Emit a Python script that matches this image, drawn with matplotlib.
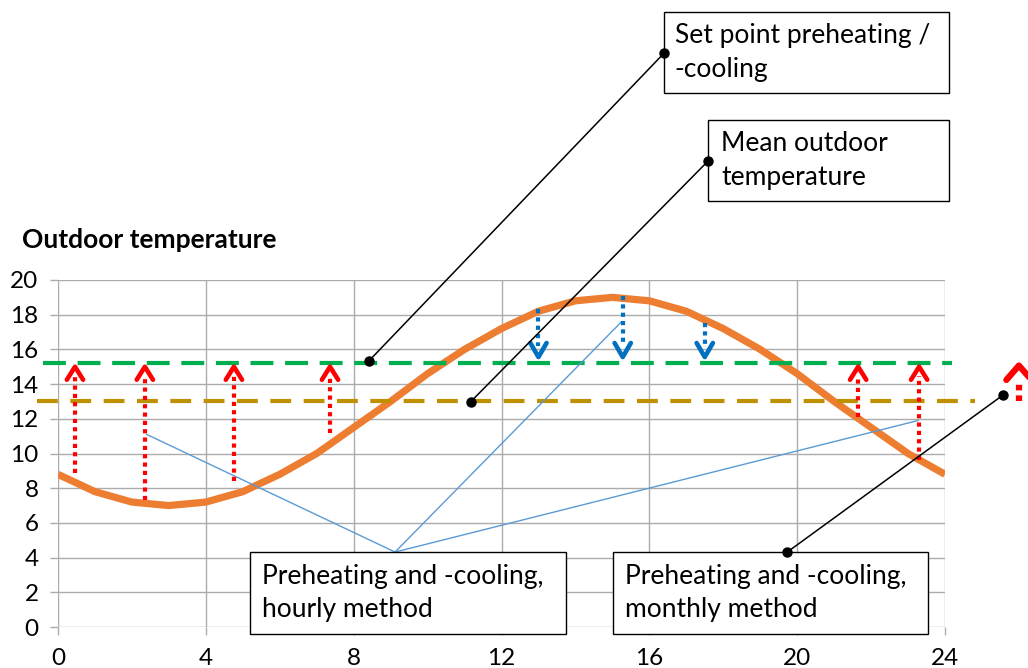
import matplotlib
matplotlib.use('Agg')
import matplotlib.pyplot as plt
import matplotlib.patches as mpatches

# data
hours = list(range(25))
outdoor_temp = [8.8, 7.8, 7.2, 7.0, 7.2, 7.8, 8.8, 10.0, 11.5, 13.0, 14.6, 16.0, 17.2,
                18.2, 18.8, 19.0, 18.8, 18.2, 17.2, 16.0, 14.6, 13.0, 11.5, 10.0, 8.8]
setpoint = 15.2
mean_temp = 13.0

heat_x = [0.46, 2.35, 4.76, 7.36, 21.65, 23.3]
heat_bottom = [8.9, 7.3, 8.4, 11.2, 12.1, 9.6]
cool_x = [13.0, 15.28, 17.5]
cool_top = [18.3, 19.1, 17.5]

xticks = [0, 4, 8, 12, 16, 20, 24]
yticks = [0, 2, 4, 6, 8, 10, 12, 14, 16, 18, 20]

# colours
c_orange = '#ED7D31'
c_green = '#00B050'
c_gold = '#BF9000'
c_red = '#FF0000'
c_blue = '#0070C0'
c_lblue = '#5B9BD5'
c_grid = '#ACACAC'

plt.rcParams['font.family'] = ['Lato', 'DejaVu Sans']

W, H = 1028, 668
fig = plt.figure(figsize=(W / 100, H / 100), dpi=100)
ax = fig.add_axes([58 / W, 41 / H, (945 - 58) / W, (627 - 280) / H])
ax.set_xlim(0, 24)
ax.set_ylim(0, 20)
ax.set_xticks(xticks)
ax.set_yticks(yticks)
ax.grid(True, color=c_grid, lw=1.0)
ax.set_axisbelow(True)
for s in ax.spines.values():
    s.set_visible(False)
ax.tick_params(axis='both', length=6, width=1.0, color=c_grid, labelsize=17.5)
ax.tick_params(axis='y', pad=8)
ax.tick_params(axis='x', pad=9)

# reference lines (drawn a bit past the plot area)
ax.plot([-0.4, 24.2], [setpoint, setpoint], color=c_green, lw=3, ls=(0, (5.5, 2.8)),
        clip_on=False, zorder=3)
ax.plot([-0.57, 24.8], [mean_temp, mean_temp], color=c_gold, lw=3, ls=(0, (5, 3)),
        clip_on=False, zorder=3)

# outdoor temperature
ax.plot(hours, outdoor_temp, color=c_orange, lw=5.2, solid_capstyle='butt', zorder=2)

# heating arrows
for x, b in zip(heat_x, heat_bottom):
    ax.plot([x, x], [b, 14.45], color=c_red, lw=3.0, ls=(0, (1, 1)), zorder=5)
    ax.plot([x - 0.22, x, x + 0.22], [14.25, 15.0, 14.25], color=c_red, lw=3.3,
            solid_joinstyle='round', solid_capstyle='round', zorder=5)

# cooling arrows
for x, t in zip(cool_x, cool_top):
    ax.plot([x, x], [t, 16.2], color=c_blue, lw=3.0, ls=(0, (1, 1)), zorder=5)
    ax.plot([x - 0.22, x, x + 0.22], [16.37, 15.56, 16.37], color=c_blue, lw=3.3,
            solid_joinstyle='round', solid_capstyle='round', zorder=5)

# big arrow at the right edge
ax.plot([26.0, 26.0], [13.0, 14.1], color=c_red, lw=4.5, ls=(0, (0.9, 0.8)),
        clip_on=False, zorder=5)
ax.plot([26.0 - 0.34, 26.0, 26.0 + 0.34], [14.24, 15.07, 14.24], color=c_red, lw=4.5,
        solid_joinstyle='round', solid_capstyle='round', clip_on=False, zorder=5)

# leader lines for hourly method
for ex, ey in [(2.4, 11.1), (15.25, 17.6), (23.27, 11.9)]:
    ax.plot([9.12, ex], [4.32, ey], color=c_lblue, lw=1.0, zorder=4)

# black leader lines with dots
leaders = [((8.41, 15.33), (16.40, 33.08)),
           ((11.17, 12.99), (17.59, 26.86)),
           ((25.57, 13.37), (19.72, 4.30))]
for (x0, y0), (x1, y1) in leaders:
    ax.plot([x0, x1], [y0, y1], color='black', lw=1.1, marker='o', ms=6.5,
            clip_on=False, zorder=8)

# annotation boxes
boxes = [((16.40, 30.78), 24.11 - 16.40, 35.45 - 30.78, 'Set point preheating /\n-cooling', 16.69),
         ((17.59, 24.55), 24.11 - 17.59, 29.22 - 24.55, 'Mean outdoor\ntemperature', 17.94),
         ((5.19, -0.40), 13.74 - 5.19, 4.32 + 0.40, 'Preheating and -cooling,\nhourly method', 5.52),
         ((15.02, -0.40), 23.54 - 15.02, 4.32 + 0.40, 'Preheating and -cooling,\nmonthly method', 15.34)]
for (bx, by), bw, bh, txt, tx in boxes:
    rect = mpatches.Rectangle((bx, by), bw, bh, fc='white', ec='black', lw=1.0,
                              clip_on=False, zorder=6)
    ax.add_patch(rect)
    ax.text(tx, by + bh / 2, txt, ha='left', va='center', fontsize=19,
            linespacing=1.42, clip_on=False, zorder=7)

fig.text(22 / W, 1 - 240 / H, 'Outdoor temperature', fontsize=19, fontweight='bold',
         ha='left', va='center')

fig.savefig('out.png', dpi=100)
